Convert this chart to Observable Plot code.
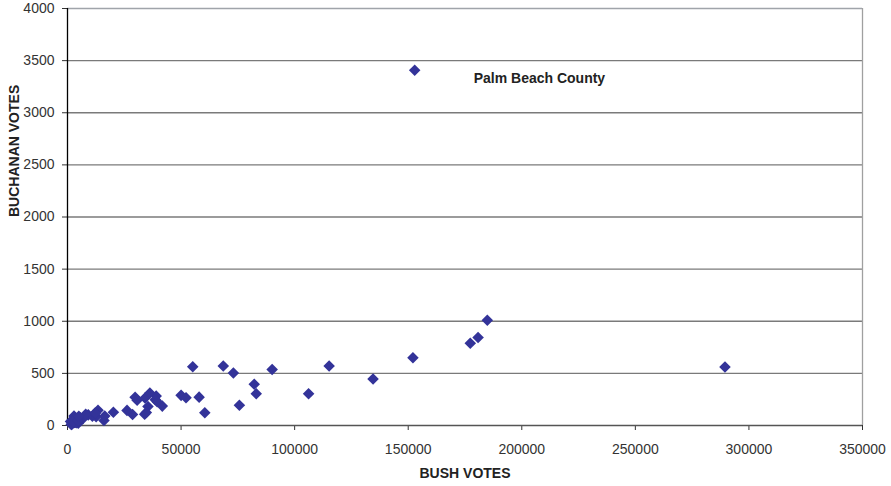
<!DOCTYPE html>
<html>
<head>
<meta charset="utf-8">
<script src="https://cdn.jsdelivr.net/npm/d3@7"></script>
<script src="https://cdn.jsdelivr.net/npm/@observablehq/plot@0.6"></script>
<style>
  html, body { margin: 0; padding: 0; background: #fff; }
</style>
</head>
<body>
<div id="chart"></div>
<script>
const counties = ["Alachua","Baker","Bay","Bradford","Brevard","Broward","Calhoun","Charlotte","Citrus","Clay","Collier","Columbia","Miami-Dade","DeSoto","Dixie","Duval","Escambia","Flagler","Franklin","Gadsden","Gilchrist","Glades","Gulf","Hamilton","Hardee","Hendry","Hernando","Highlands","Hillsborough","Holmes","Indian River","Jackson","Jefferson","Lafayette","Lake","Lee","Leon","Levy","Liberty","Madison","Manatee","Marion","Martin","Monroe","Nassau","Okaloosa","Okeechobee","Orange","Osceola","Palm Beach","Pasco","Pinellas","Polk","Putnam","St. Johns","St. Lucie","Santa Rosa","Sarasota","Seminole","Sumter","Suwannee","Taylor","Union","Volusia","Wakulla","Walton","Washington"];
const bushVotes = [34124,5610,38637,5414,115185,177323,2873,35426,29767,41736,60450,10964,289456,4256,2697,152082,73029,12608,2448,4750,3300,1841,3550,2146,3765,4747,30646,20206,180760,5011,28635,9138,2481,1670,50010,106141,39053,6858,1317,3038,57948,55135,33972,16059,16404,52186,5057,134517,26212,152846,68582,184823,90101,13439,39497,34705,36274,83100,75677,12127,8006,4051,2326,82214,4512,12182,4994];
const buchananVotes = [263,73,248,65,570,789,90,182,270,186,122,89,561,36,29,650,504,83,33,39,29,9,71,24,30,22,242,127,845,76,105,102,29,10,289,305,282,67,39,29,272,563,108,47,90,267,43,446,145,3407,570,1010,538,147,229,124,311,305,194,114,108,27,37,396,46,120,88];
const xTicks = [0,50000,100000,150000,200000,250000,300000,350000];
const yTicks = [0,500,1000,1500,2000,2500,3000,3500,4000];
const xTitle = "BUSH VOTES";
const yTitle = "BUCHANAN VOTES";
const annotation = "Palm Beach County";

const data = counties.map((c, i) => ({county: c, bush: bushVotes[i], buchanan: buchananVotes[i]}));
const palmBeach = data.filter(d => d.county === "Palm Beach");

const chart = Plot.plot({
  width: 891,
  height: 486,
  marginLeft: 67,
  marginRight: 29,
  marginTop: 8,
  marginBottom: 61,
  style: {fontFamily: "Arial, 'Liberation Sans', sans-serif", fontSize: "14px", color: "#333", background: "#fff", overflow: "visible"},
  x: {domain: [0, 350000], ticks: xTicks, tickFormat: d => String(d), tickSize: 5, tickPadding: 14, label: null},
  y: {domain: [0, 4000], ticks: yTicks, tickFormat: d => String(d), tickSize: 5, tickPadding: 8, label: null},
  marks: [
    Plot.ruleY(yTicks.filter(t => t > 0 && t < 4000), {stroke: "#7a7a7a", strokeWidth: 1.3}),
    Plot.ruleY([4000], {stroke: "#a0a4aa", strokeWidth: 1.3}),
    Plot.ruleX([350000], {stroke: "#a0a0a0", strokeWidth: 1.3}),
    Plot.ruleY([0], {stroke: "#555", strokeWidth: 1.3}),
    Plot.ruleX([0], {stroke: "#000", strokeWidth: 1.3}),
    Plot.dot(data, {x: "bush", y: "buchanan", symbol: "diamond2", r: 5.2, fill: "#333399", stroke: "none"}),
    Plot.text(palmBeach, {x: "bush", y: "buchanan", text: () => annotation, textAnchor: "start", dx: 59, dy: 8, fontWeight: "bold", fontSize: 14, fill: "#222"}),
    Plot.text([xTitle], {frameAnchor: "bottom", dy: 52, fontWeight: "bold", fontSize: 14, fill: "#222"}),
    Plot.text([yTitle], {frameAnchor: "left", rotate: -90, dx: -53, fontWeight: "bold", fontSize: 14, fill: "#222"})
  ]
});
document.getElementById("chart").appendChild(chart);
</script>
</body>
</html>
